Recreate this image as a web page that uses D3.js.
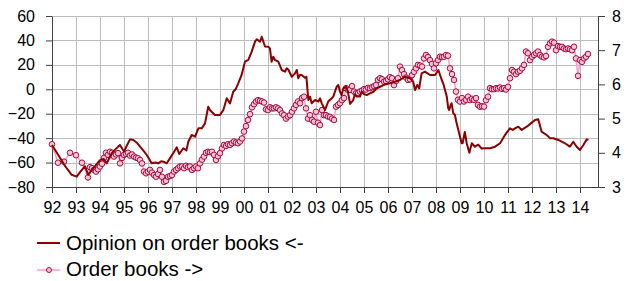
<!DOCTYPE html>
<html>
<head>
<meta charset="utf-8">
<script src="https://cdn.jsdelivr.net/npm/d3@7"></script>
<style>
  body { margin: 0; background: #fff; }
  svg { display: block; font-family: "Liberation Sans", Arial, sans-serif; }
</style>
</head>
<body>
<div id="chart"></div>
<script>
// opinion on order books (left axis), [decimal year, balance]
const opinion = [
  [1992.0,-45.6],[1992.3,-55],[1992.55,-63],[1992.82,-70],[1993.03,-71.5],[1993.2,-67],[1993.375,-63],[1993.51,-70],
  [1993.75,-64],[1994.0,-58],[1994.15,-57],[1994.28,-60.6],[1994.49,-52.4],[1994.65,-49],[1994.83,-45.6],[1995.0,-51],
  [1995.12,-46],[1995.25,-41],[1995.39,-41.5],[1995.55,-44],[1995.67,-47],[1995.8,-50],[1995.95,-53.8],[1996.05,-57],
  [1996.15,-60.6],[1996.3,-60],[1996.42,-60.6],[1996.55,-59],[1996.64,-59.3],[1996.78,-60.6],[1996.9,-57],[1997.05,-52.4],
  [1997.2,-47.5],[1997.3,-53],[1997.47,-48.3],[1997.6,-50],[1997.68,-43],[1997.82,-37.4],[1997.96,-38.8],[1998.1,-32],
  [1998.24,-32],[1998.375,-27.9],[1998.51,-14.3],[1998.58,-17],[1998.65,-18.4],[1998.79,-21],[1999.0,-21],[1999.14,-17],
  [1999.28,-7.4],[1999.42,-11.5],[1999.55,-2],[1999.65,0],[1999.76,4.9],[1999.9,11.7],[2000.04,22.6],[2000.18,24],
  [2000.32,30.8],[2000.46,39],[2000.53,41],[2000.67,39],[2000.74,43],[2000.875,35],[2001.01,34.9],[2001.08,33.5],
  [2001.15,22.6],[2001.22,26.7],[2001.29,24],[2001.43,22.6],[2001.57,15.8],[2001.71,14.4],[2001.78,17.2],[2001.85,16],
  [2001.99,10.3],[2002.125,13],[2002.2,15.8],[2002.26,9],[2002.33,11.7],[2002.4,11.7],[2002.54,9.5],[2002.6,10.3],
  [2002.68,-8.8],[2002.75,-6],[2002.82,-11.5],[2002.96,-8.8],[2003.1,-10],[2003.17,-7.4],[2003.24,-11.5],[2003.375,-17],
  [2003.51,-10],[2003.65,-7.4],[2003.72,-6],[2003.79,-2],[2003.86,2.1],[2003.93,3.5],[2004.0,-2],[2004.07,-4.7],
  [2004.14,0.8],[2004.25,2.1],[2004.33,-2],[2004.42,-12],[2004.55,-8.8],[2004.62,-4],[2004.7,-6],[2004.83,-6],
  [2004.9,-2],[2005.0,-4],[2005.11,-4.7],[2005.25,-3.3],[2005.39,-2],[2005.53,0.8],[2005.67,2.1],[2005.875,4],
  [2006.08,4.9],[2006.29,6.2],[2006.5,7.6],[2006.71,10.3],[2006.92,9],[2006.99,7.6],[2007.05,6.2],[2007.125,-0.6],
  [2007.22,3.5],[2007.3,0.8],[2007.4,13],[2007.54,14.4],[2007.75,11.7],[2007.96,11.7],[2008.1,15.8],[2008.24,7.6],
  [2008.3,4.9],[2008.375,-0.6],[2008.45,-6],[2008.51,-15.6],[2008.55,-17],[2008.61,-12.9],[2008.65,-11.5],[2008.72,-19.7],
  [2008.79,-21],[2008.86,-27.9],[2008.93,-33.3],[2009.0,-38.8],[2009.07,-44.2],[2009.11,-44.2],[2009.2,-35],[2009.28,-44.2],
  [2009.39,-52],[2009.49,-44.2],[2009.625,-47],[2009.76,-45.3],[2009.9,-48.5],[2010.04,-48.3],[2010.25,-48.3],[2010.46,-47],
  [2010.67,-44.2],[2010.875,-37.4],[2011.08,-32],[2011.2,-33.3],[2011.29,-32],[2011.43,-30.6],[2011.57,-33.3],[2011.78,-30.6],
  [2011.99,-27.3],[2012.125,-25.1],[2012.26,-24.6],[2012.4,-34.7],[2012.61,-37.4],[2012.75,-40],[2012.89,-40.1],[2013.1,-41.5],
  [2013.375,-44.2],[2013.58,-47],[2013.72,-42.9],[2013.86,-47],[2014.0,-49.7],[2014.14,-45.6],[2014.28,-41],[2014.35,-41.5]
];

// order books (right axis): quarterly until mid-1993, then monthly from Aug 1993
const orderQuarterly = [[1992.0,4.25],[1992.25,3.71],[1992.5,3.74],[1992.75,4.0],[1993.0,3.93],[1993.25,3.71],[1993.5,3.28]];
const monthlyStart = 1993 + 7 / 12;
const orderMonthly = [
  3.58,3.55,3.5,3.45,3.52,                                   // 1993 Aug-Dec
  3.6,3.68,3.85,4.0,3.94,4.03,4.0,3.89,3.95,3.99,3.69,3.85,  // 1994
  3.94,3.97,4.0,3.92,3.95,3.89,3.86,3.84,3.79,3.69,3.45,3.4, // 1995
  3.45,3.5,3.42,3.35,3.3,3.38,3.5,3.3,3.15,3.18,3.3,3.32,    // 1996
  3.35,3.45,3.5,3.55,3.6,3.6,3.55,3.62,3.58,3.6,3.5,3.55,    // 1997
  3.6,3.55,3.69,3.8,3.89,4.0,4.03,4.02,4.03,3.94,3.79,3.9,   // 1998
  3.99,4.13,4.23,4.2,4.25,4.23,4.28,4.33,4.3,4.28,4.33,4.42, // 1999
  4.62,4.78,4.96,5.13,5.33,5.42,5.5,5.54,5.52,5.5,5.47,5.27, // 2000
  5.25,5.33,5.3,5.3,5.33,5.3,5.25,5.15,5.1,5.0,5.06,5.1,     // 2001
  5.2,5.3,5.4,5.5,5.45,5.6,5.64,5.3,5.0,5.1,4.96,4.91,       // 2002
  5.2,4.88,4.81,5.25,5.1,5.1,5.06,5.05,5.0,4.96,5.35,5.4,    // 2003
  5.45,5.54,5.6,5.89,5.84,5.84,5.95,5.79,5.74,5.74,5.79,5.82,// 2004
  5.86,5.85,5.9,5.89,5.92,5.95,5.98,6.13,6.18,6.15,6.08,6.1, // 2005
  6.15,6.21,6.18,5.98,6.1,6.18,6.52,6.42,6.3,6.2,6.13,6.15,  // 2006
  6.27,6.37,6.47,6.57,6.55,6.52,6.76,6.86,6.8,6.71,6.6,6.47, // 2007
  6.62,6.71,6.81,6.8,6.81,6.86,6.84,6.47,6.3,6.13,5.79,5.55, // 2008
  5.5,5.6,5.5,5.55,5.64,5.54,5.58,5.55,5.6,5.4,5.35,5.36,    // 2009
  5.35,5.54,5.64,5.89,5.86,5.86,5.89,5.88,5.91,5.87,5.89,5.85,// 2010
  5.93,6.18,6.42,6.37,6.3,6.37,6.4,6.47,6.57,6.96,6.91,6.71, // 2011
  6.81,6.86,6.91,6.96,6.86,6.81,6.79,6.83,7.1,7.2,7.25,7.22, // 2012
  7.0,7.12,7.1,7.1,7.05,7.03,7.05,7.03,7.0,7.1,6.76,6.25,    // 2013
  6.71,6.66,6.76,6.81,6.89                                   // 2014 Jan-May
];
const orderBooks = orderQuarterly.concat(orderMonthly.map((v, i) => [monthlyStart + i / 12, v]));

const years = d3.range(1992, 2015);
const leftTicks = d3.range(-80, 61, 20);
const rightTicks = d3.range(3, 9);
const legendItems = ['Opinion on order books <-', 'Order books ->'];

const width = 626, height = 281;
const plot = { left: 52, right: 598, top: 16, bottom: 187 };
const darkRed = '#8b0000';
const pinkLine = '#ff99cc';
const markerStroke = '#a0103a';
const markerFill = '#ffc0d8';
const gridColor = '#bdbdbd';

const x = d3.scaleLinear().domain([1992, 2014.75]).range([plot.left, plot.right]);
const yL = d3.scaleLinear().domain([-80, 60]).range([plot.bottom, plot.top]);
const yR = d3.scaleLinear().domain([3, 8]).range([plot.bottom, plot.top]);

const svg = d3.select('#chart').append('svg').attr('width', width).attr('height', height);

// gridlines
const grid = svg.append('g').attr('stroke', gridColor).attr('stroke-width', 1);
grid.selectAll('.h').data(leftTicks).join('line')
  .attr('x1', plot.left).attr('x2', plot.right)
  .attr('y1', d => Math.round(yL(d)) + 0.5).attr('y2', d => Math.round(yL(d)) + 0.5);
grid.selectAll('.v').data(years).join('line')
  .attr('y1', plot.top).attr('y2', plot.bottom)
  .attr('x1', d => Math.round(x(d)) + 0.5).attr('x2', d => Math.round(x(d)) + 0.5);

// axes
const axisLeft = svg.append('g').attr('transform', `translate(${plot.left},0)`)
  .call(d3.axisLeft(yL).tickValues(leftTicks).tickSize(6).tickPadding(11).tickSizeOuter(0)
    .tickFormat(d3.format('d')));
const axisRight = svg.append('g').attr('transform', `translate(${plot.right},0)`)
  .call(d3.axisRight(yR).tickValues(rightTicks).tickSize(7).tickPadding(7).tickSizeOuter(0)
    .tickFormat(d3.format('d')));
const axisBottom = svg.append('g').attr('transform', `translate(0,${plot.bottom})`)
  .call(d3.axisBottom(x).tickValues(years).tickSize(6).tickPadding(9).tickSizeOuter(0)
    .tickFormat(d => String(d % 100).padStart(2, '0')));

[axisLeft, axisRight, axisBottom].forEach(g => {
  g.selectAll('path, line').attr('stroke', '#404040');
  g.selectAll('text').attr('fill', '#000').style('font-size', '16px')
    .style('font-family', '"Liberation Sans", Arial, sans-serif');
});

// order books (right axis) with markers
svg.append('path')
  .datum(orderBooks)
  .attr('fill', 'none')
  .attr('stroke', pinkLine)
  .attr('stroke-width', 1.5)
  .attr('d', d3.line().x(d => x(d[0])).y(d => yR(d[1])));

svg.append('g')
  .selectAll('circle')
  .data(orderBooks)
  .join('circle')
  .attr('cx', d => x(d[0]))
  .attr('cy', d => yR(d[1]))
  .attr('r', 2.8)
  .attr('fill', markerFill)
  .attr('stroke', markerStroke)
  .attr('stroke-width', 1);

// opinion on order books (left axis)
svg.append('path')
  .datum(opinion)
  .attr('fill', 'none')
  .attr('stroke', darkRed)
  .attr('stroke-width', 2)
  .attr('stroke-linejoin', 'round')
  .attr('d', d3.line().x(d => x(d[0])).y(d => yL(d[1])));

// legend
const legend = svg.append('g').style('font-size', '20.5px');
legend.append('line').attr('x1', 37).attr('x2', 60).attr('y1', 243).attr('y2', 243)
  .attr('stroke', darkRed).attr('stroke-width', 2);
legend.append('text').attr('x', 66).attr('y', 250).text(legendItems[0]);
legend.append('line').attr('x1', 37).attr('x2', 60).attr('y1', 270).attr('y2', 270)
  .attr('stroke', pinkLine).attr('stroke-width', 1.5);
legend.append('circle').attr('cx', 49).attr('cy', 270).attr('r', 2.5)
  .attr('fill', markerFill).attr('stroke', markerStroke);
legend.append('text').attr('x', 66).attr('y', 276).text(legendItems[1]);
</script>
</body>
</html>
